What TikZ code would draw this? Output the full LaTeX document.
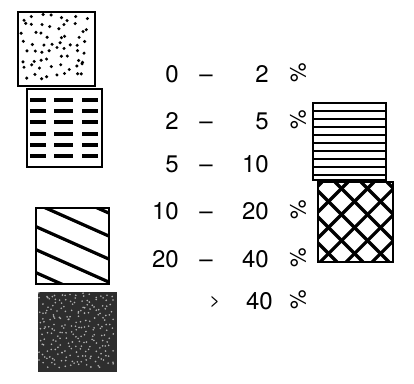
\documentclass[tikz,border=0pt]{standalone}
\usepackage{fontspec}
\setmainfont{TeX Gyre Heros}
\tikzset{
  keybox/.style={line width=2.2pt},
  hatchline/.style={line width=3.2pt},
  thinline/.style={line width=1.6pt},
  rangetext/.style={font=\fontsize{24}{28}\selectfont, inner sep=0pt},
  pctext/.style={font=\fontsize{22}{24}\selectfont, inner sep=0pt, rotate=90},
}
\begin{document}
\begin{tikzpicture}[x=1pt,y=-1pt]
    \useasboundingbox (0,0) rectangle (414,383);

    % Draw the dotted box
    \draw[keybox] (18,12) rectangle (95,86);
    \pgfmathsetseed{3}
    \foreach \i in {0,...,7}
        \foreach \j in {0,...,7}
            \fill ({24+8.6*\i+3.5*rand},{18+8.2*\j+3.5*rand}) circle (1.7);

    % Draw the box with dashes
    \draw[keybox] (27,89) rectangle (102,167);
    \foreach \y in {100,111,122,134,145,156}
        \draw[hatchline] (30,\y) -- (46,\y) (54,\y) -- (73,\y) (82,\y) -- (98,\y);

    % Draw the box with slanted stripes
    \begin{scope}
        \clip (36,208) rectangle (109,284);
        \foreach \c in {178,201,224,247,270}
            \draw[hatchline] (30,\c) -- (120,\c+40);
    \end{scope}
    \draw[keybox] (36,208) rectangle (109,284);

    % Draw the dark box
    \fill[black!82] (38,292) rectangle (117,372);
    \pgfmathsetseed{5}
    \foreach \i in {0,...,14}
        \foreach \j in {0,...,14}
            \fill[gray!60] ({41+5*\i+2.5*rand},{295+5*\j+2.5*rand}) circle (0.9);

    % Draw the box with horizontal lines
    \draw[keybox] (313,103) rectangle (386,180);
    \foreach \y in {111,119,...,175}
        \draw[thinline] (313,\y) -- (386,\y);

    % Draw the cross-hatched box
    \begin{scope}
        \clip (318,182) rectangle (393,262);
        \foreach \c in {322,348,...,480}
            \draw[hatchline] (\c,182) -- (\c-80,262);
        \foreach \c in {231,257,...,392}
            \draw[hatchline] (\c,182) -- (\c+80,262);
    \end{scope}
    \draw[keybox] (318,182) rectangle (393,262);

    % Ranges
    \foreach \lo/\hi/\yy [count=\i] in {0/2/73, 2/5/120, 5/10/163, 10/20/210, 20/40/258}{
        \node[rangetext, anchor=base east] (lo\i) at (179,\yy+9) {\lo};
        \node[rangetext, anchor=base] (dash\i) at (206,\yy+9) {--};
        \node[rangetext, anchor=base east] (hi\i) at (269,\yy+9) {\hi};
    }
    \node[rangetext, anchor=base, font=\fontsize{18}{20}\selectfont] (gt6) at (215,306) {>};
    \node[rangetext, anchor=base east] (hi6) at (273,309) {40};

    % Percent signs
    \foreach \yy [count=\i] in {73,120,210,258,300}
        \node[pctext] (pc\i) at (298,\yy) {\%};

\end{tikzpicture}
\end{document}
